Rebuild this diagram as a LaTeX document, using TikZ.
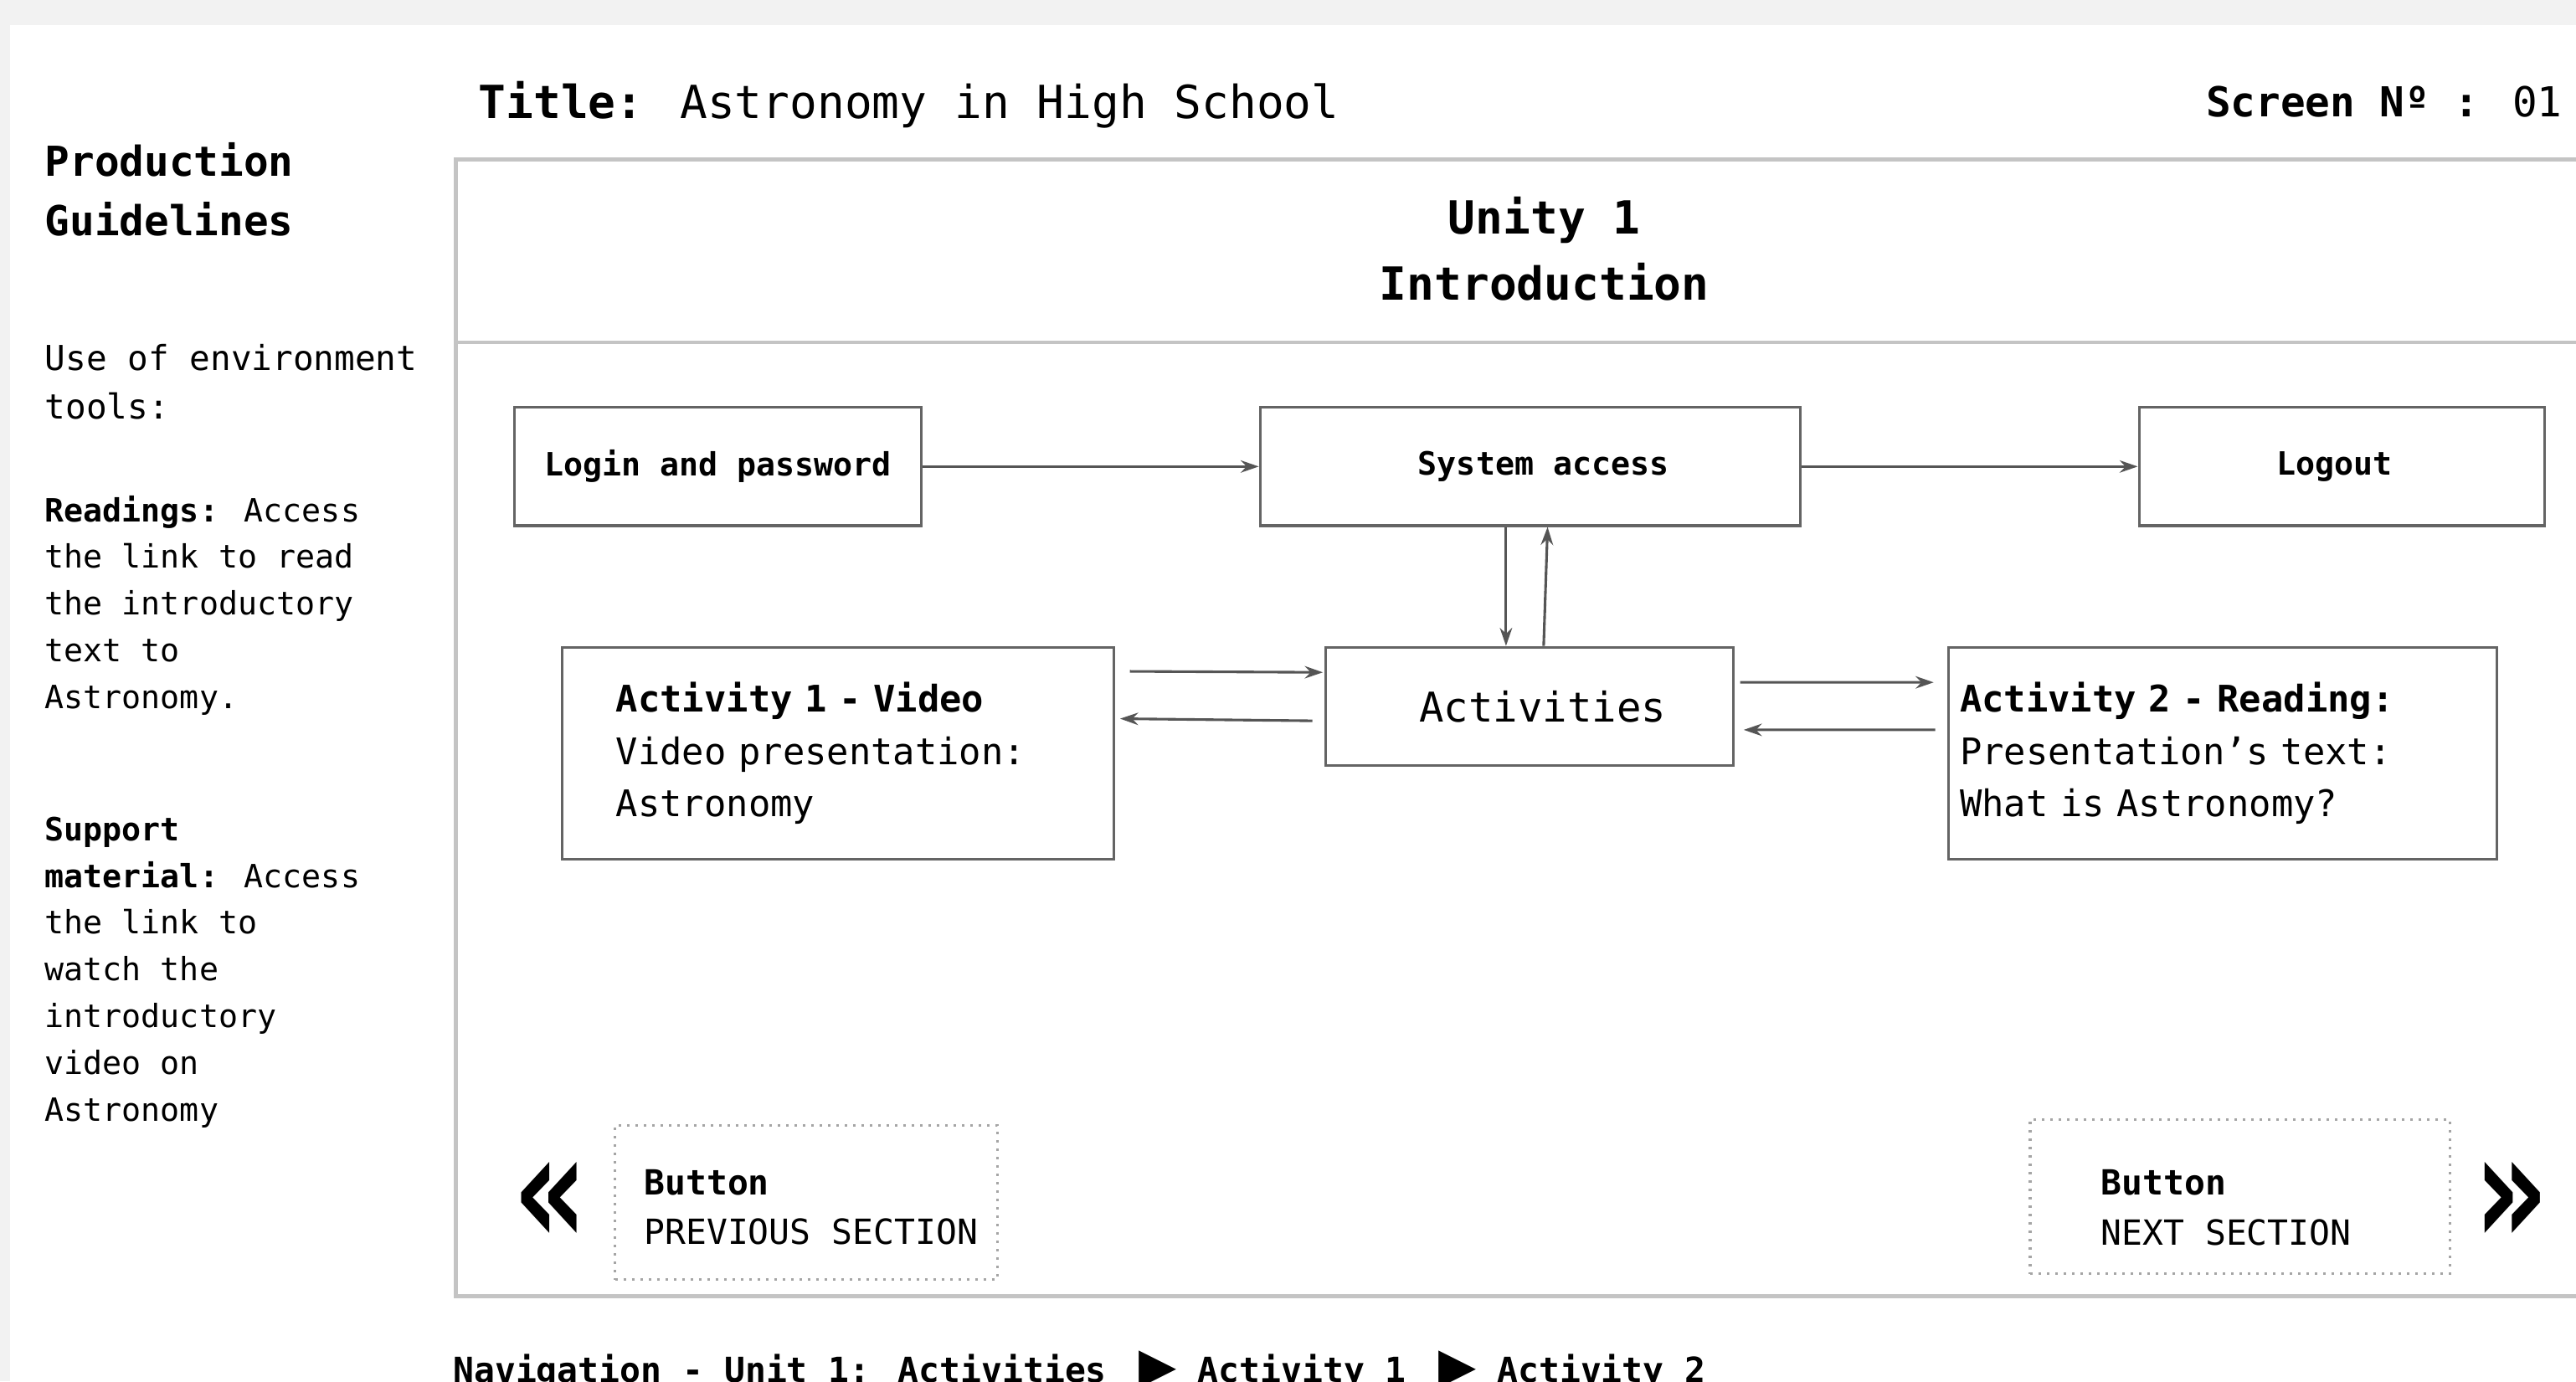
\documentclass[tikz,border=0pt]{standalone}
\usepackage{fontspec}
\setmainfont{DejaVu Sans Mono}
\newfontfamily\trifont{DejaVu Sans}
\usetikzlibrary{arrows.meta, positioning}
\definecolor{pagegray}{RGB}{242,242,242}
\definecolor{framegray}{RGB}{196,196,196}
\definecolor{boxgray}{RGB}{100,100,100}
\definecolor{arrowgray}{RGB}{85,85,85}
\definecolor{btngray}{RGB}{165,165,165}
\newcommand{\txtguide}{\fontsize{11.1}{16.2}\selectfont}
\newcommand{\txtintro}{\fontsize{11.9}{16.8}\selectfont}
\newcommand{\txthead}{\fontsize{14.3}{20.7}\selectfont}
\newcommand{\txttitle}{\fontsize{15.8}{22.9}\selectfont}
\newcommand{\txtscreen}{\fontsize{14.3}{20}\selectfont}
\newcommand{\txtbox}{\fontsize{11.1}{14}\selectfont}
\newcommand{\txtacts}{\fontsize{14.2}{17}\selectfont}
\newcommand{\txtact}{\fontsize{12.7}{18.1}\selectfont}
\newcommand{\txtbtn}{\fontsize{12}{17.3}\selectfont}
\newcommand{\txtnav}{\fontsize{12}{14}\selectfont}
\newcommand{\navsep}{\hspace{0.14cm} {\trifont\fontsize{17}{14}\selectfont ▶} }

\begin{document}
\begin{tikzpicture}[
    flowbox/.style={rectangle, draw=boxgray, line width=0.9pt, align=center,
      minimum height=1.44cm, inner sep=0pt, font=\txtbox\bfseries},
    actbox/.style={rectangle, draw=boxgray, line width=0.9pt, align=left,
      minimum height=2.58cm, inner ysep=0pt, font=\txtact},
    btnbox/.style={rectangle, draw=btngray, dotted, line width=0.9pt,
      minimum height=1.88cm, inner sep=0pt},
    btntext/.style={anchor=base west, align=left, inner sep=0pt, font=\txtbtn},
    sidetext/.style={anchor=base west, align=left, inner sep=0pt, font=\txtguide},
    chevron/.style={inner sep=0pt, font=\fontsize{50}{50}\selectfont\bfseries},
    arrow/.style={-{Stealth[length=2.2mm, width=1.5mm]}, line width=0.9pt, arrowgray}]
    \clip (0,0) rectangle (31.36,-16.82);
    \fill[pagegray] (0,0) rectangle (31.36,-16.82);
    \fill[white] (0.12,-0.31) rectangle (31.6,-17.0);
    \draw[framegray, line width=1.3pt] (31.6,-1.94) -- (5.55,-1.94) -- (5.55,-15.78) -- (31.6,-15.78);
    \draw[framegray, line width=1.3pt] (5.55,-4.17) -- (31.6,-4.17);

    \node[anchor=base west, inner sep=0pt, font=\txttitle] (title) at (5.82,-1.444)
      {\textbf{Title:} Astronomy in High School};
    \node[anchor=base east, inner sep=0pt, font=\txtscreen] (screen) at (31.2,-1.42)
      {\textbf{Screen Nº :} 01};
    \node[anchor=base, align=center, inner sep=0pt, font=\txttitle\bfseries] (unit) at (18.8,-3.652)
      {Unity 1\\Introduction};

    \node[sidetext, font=\txthead\bfseries] (guide) at (0.54,-2.87)
      {Production\\Guidelines};
    \node[sidetext, font=\txtintro] (tools) at (0.54,-5.10)
      {Use of environment\\tools:};
    \node[sidetext] (readings) at (0.54,-8.628)
      {\textbf{Readings:} Access\\the link to read\\the introductory\\text to\\Astronomy.};
    \node[sidetext] (support) at (0.54,-13.65)
      {\textbf{Support}\\\textbf{material:} Access\\the link to\\watch the\\introductory\\video on\\Astronomy};

    \node[flowbox, minimum width=4.96cm] (login) at (8.74,-5.68) {Login and password};
    \node[flowbox, minimum width=6.58cm] (sysaccess) at (18.63,-5.68) {\hspace*{0.32cm}System access};
    \node[flowbox, minimum width=4.94cm] (logout) at (28.51,-5.68) {Logout\hspace*{0.18cm}};
    \node[flowbox, minimum width=4.96cm, font=\txtacts] (activities) at (18.62,-8.6) {\hspace*{0.32cm}Activities};
    \node[actbox, text width=5.4cm, inner xsep=0.66cm] (act1) at (10.2,-9.17)
      {\textbf{Activity 1 - Video}\\Video presentation:\\Astronomy};
    \node[actbox, text width=6.4cm, inner xsep=0.14cm] (act2) at (27.06,-9.17)
      {\textbf{Activity 2 - Reading:}\\Presentation’s text:\\What is Astronomy?};

    \draw[arrow] (login) -- (sysaccess);
    \draw[arrow] (sysaccess) -- (logout);
    \draw[arrow] ([xshift=-0.296cm]sysaccess.south) -- ([xshift=-0.286cm]activities.north);
    \draw[arrow] ([xshift=0.172cm]activities.north) -- ([xshift=0.21cm]sysaccess.south);
    \draw[arrow] ([shift={(0.18,0.996)}]act1.east) -- ([shift={(-0.02,0.414)}]activities.west);
    \draw[arrow] ([shift={(-0.148,-0.176)}]activities.west) -- ([shift={(0.06,0.42)}]act1.east);
    \draw[arrow] ([shift={(0.068,0.292)}]activities.east) -- ([shift={(-0.164,0.862)}]act2.west);
    \draw[arrow] ([shift={(-0.146,0.284)}]act2.west) -- ([shift={(0.112,-0.286)}]activities.east);

    \node[btnbox, minimum width=4.65cm] (prevbtn) at (9.815,-14.64) {};
    \node[btntext] (prevlabel) at ([shift={(0.36,-0.514)}]prevbtn.west)
      {\textbf{Button}\\PREVIOUS SECTION};
    \node[btnbox, minimum width=5.11cm] (nextbtn) at (27.27,-14.57) {};
    \node[btntext] (nextlabel) at ([shift={(0.87,-0.587)}]nextbtn.west)
      {\textbf{Button}\\NEXT SECTION};
    \node[chevron] (prevmark) at (6.71,-14.65) {\scalebox{0.85}[1.1]{«}};
    \node[chevron] (nextmark) at (30.56,-14.65) {\scalebox{0.85}[1.1]{»}};

    \node[anchor=base west, inner sep=0pt, font=\txtnav\bfseries] (nav) at (5.51,-16.83)
      {Navigation - Unit 1: Activities\navsep Activity 1\navsep Activity 2};
  \end{tikzpicture}
\end{document}
